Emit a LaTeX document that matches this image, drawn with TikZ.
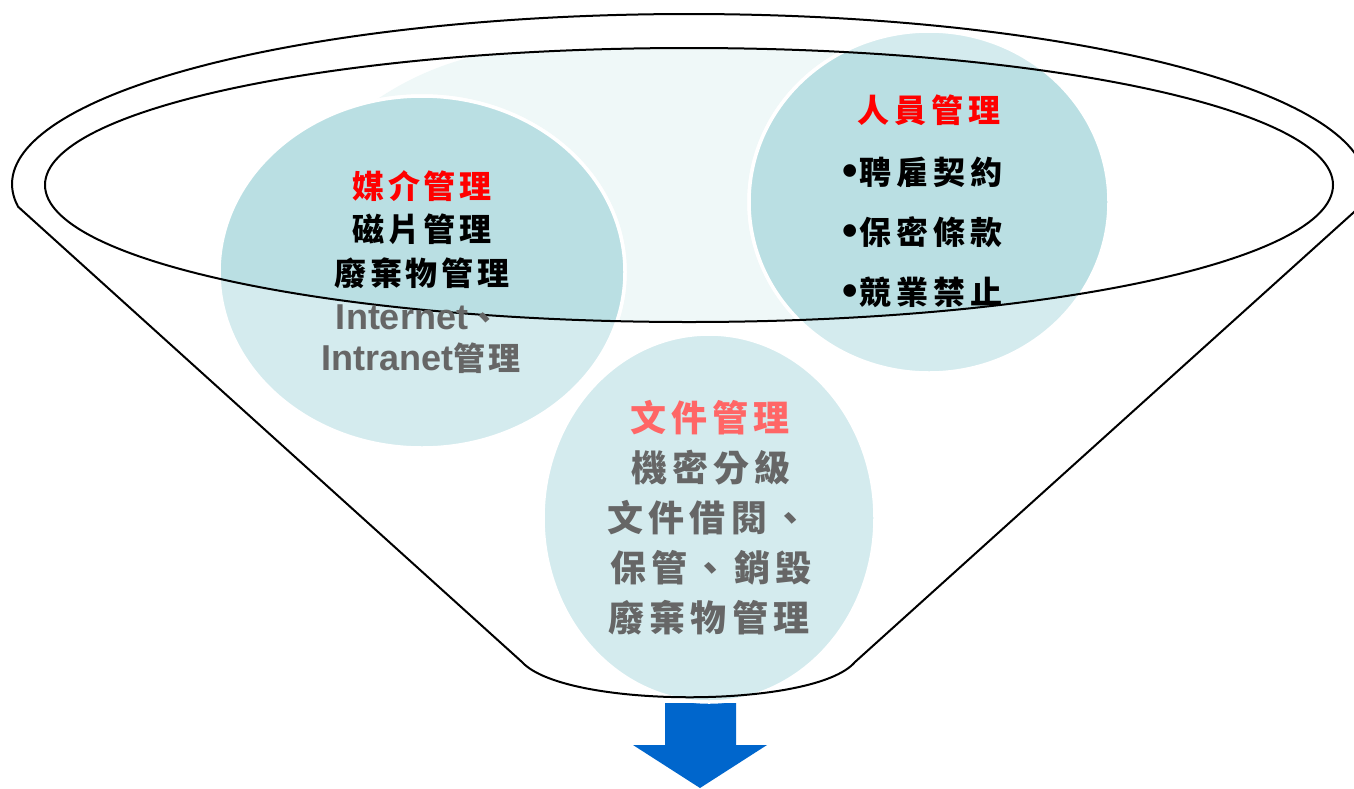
\documentclass[tikz,border=0pt]{standalone}
\usepackage{fontspec}
\newfontfamily\cjkA{Noto Sans CJK TC}[LetterSpace=12]
\newfontfamily\cjkC{Noto Sans CJK TC}[LetterSpace=15]
\newfontfamily\cjkB{Noto Sans CJK TC}[LetterSpace=14]
\newfontfamily\arial{Liberation Sans}
\definecolor{palec}{HTML}{EFF8F8}
\definecolor{lightc}{HTML}{D4EBEE}
\definecolor{darkc}{HTML}{BADFE3}
\definecolor{arrowc}{HTML}{0066CC}
\definecolor{txtgray}{HTML}{666666}
\definecolor{pinkred}{HTML}{FF6666}
\tikzset{
  funnel/.style={draw=black, line width=2pt, line join=round},
  bub/.style={draw=white, line width=3.5pt},
  lbl/.style={inner sep=0pt, anchor=center},
  fA/.style={font=\cjkA\bfseries\fontsize{32}{38}\selectfont},
  fC/.style={font=\cjkC\bfseries\fontsize{32}{38}\selectfont},
  fB/.style={font=\cjkB\bfseries\fontsize{36}{42}\selectfont},
}
\newcommand{\blt}{{\arial\fontsize{44}{44}\selectfont\raisebox{-1pt}{•}}\kern2pt}
\begin{document}
\begin{tikzpicture}[x=1pt,y=-1pt]
\path[use as bounding box] (0,0) rectangle (1354,788);
\clip (0,0) rectangle (1354,788);
\fill[white] (0,0) rectangle (1354,788);
% arrow
\fill[arrowc] (665,703) -- (665,745) -- (633,745) -- (700,788) -- (767,745) -- (736,745) -- (736,703) -- cycle;
% pale background region inside inner rim
\begin{scope}
  \clip (689,185) ellipse [x radius=644, y radius=137];
  \fill[palec] (545,348) circle [radius=300];
  \fill[palec] (545,0) rectangle (860,400);
\end{scope}
% bubbles
\filldraw[fill=lightc, bub] (422,272) ellipse [x radius=203, y radius=176];
\filldraw[fill=lightc, bub] (929,202) ellipse [x radius=180, y radius=171];
\filldraw[fill=lightc, bub] (709,518) ellipse [x radius=166, y radius=184];
\begin{scope}
  \clip (689,185) ellipse [x radius=644, y radius=137];
  \filldraw[fill=darkc, bub] (422,272) ellipse [x radius=203, y radius=176];
  \filldraw[fill=darkc, bub] (929,202) ellipse [x radius=180, y radius=171];
\end{scope}
% funnel outline
\draw[funnel] plot[domain=172.3:367.7, samples=150] ({689+677*cos(\x)},{184+170*sin(\x)})
  -- (855,662) .. controls (815,709) and (565,709) .. (522,662) -- cycle;
\draw[funnel] (689,185) ellipse [x radius=644, y radius=137];
% left bubble text
\node[lbl, fA, text=red] (m0) at (422,186) {媒介管理};
\node[lbl, fA, text=black] (m1) at (422,229) {磁片管理};
\node[lbl, fA, text=black] (m2) at (422,273) {廢棄物管理};
\node[lbl, fA, text=txtgray] (m3) at (418,317) {{\arial\bfseries\fontsize{36}{40}\selectfont Internet}、};
\node[lbl, fA, text=txtgray] (m4) at (421,358) {{\arial\bfseries\fontsize{36}{40}\selectfont Intranet}管理};
% right bubble text
\node[lbl, fC, text=red] (p0) at (929,110) {人員管理};
\node[lbl, fC, text=black, anchor=west] (p1) at (842,172) {\blt 聘雇契約};
\node[lbl, fC, text=black, anchor=west] (p2) at (842,232) {\blt 保密條款};
\node[lbl, fC, text=black, anchor=west] (p3) at (842,292) {\blt 競業禁止};
% bottom bubble text
\node[lbl, fB, text=pinkred] (d0) at (710,418) {文件管理};
\node[lbl, fB, text=txtgray] (d1) at (711,468) {機密分級};
\node[lbl, fB, text=txtgray] (d2) at (708,518) {文件借閱、};
\node[lbl, fB, text=txtgray] (d3) at (711,568) {保管、銷毀};
\node[lbl, fB, text=txtgray] (d4) at (709,618) {廢棄物管理};
\end{tikzpicture}
\end{document}
